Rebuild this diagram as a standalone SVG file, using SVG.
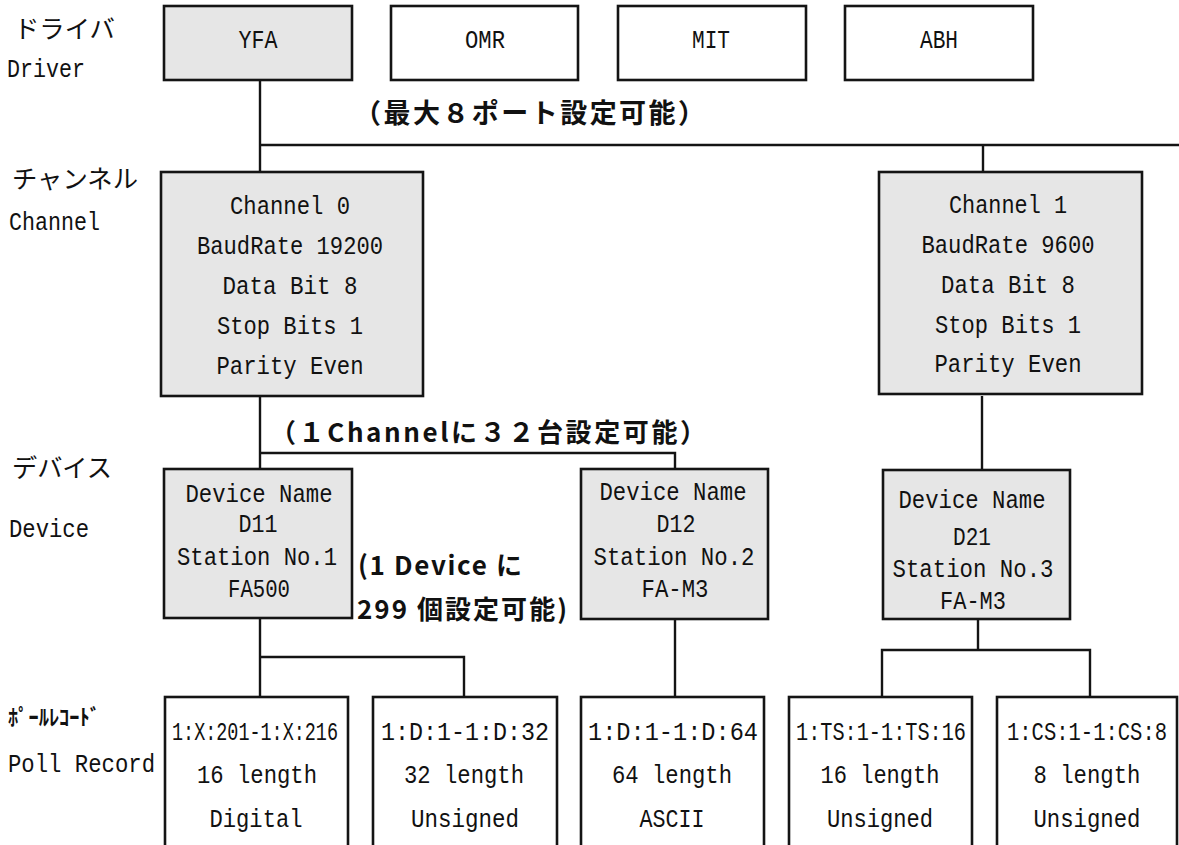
<svg xmlns="http://www.w3.org/2000/svg" width="1179" height="845" viewBox="0 0 1179 845">
<style>
.bx{stroke:#141414;stroke-width:2.6}
.g{fill:#e6e6e6}
.w{fill:#ffffff}
.t{font-family:"Liberation Mono","DejaVu Sans Mono",monospace;font-size:26px;fill:#111;text-anchor:middle}
.l{font-family:"Liberation Mono","DejaVu Sans Mono",monospace;font-size:26px;fill:#111}
.jp{font-family:"Noto Sans CJK JP","Noto Sans CJK SC",sans-serif;font-size:25px;fill:#111}
.jb{font-family:"Noto Sans CJK JP","Noto Sans CJK SC",sans-serif;font-size:26px;font-weight:bold;fill:#111}
.c{stroke:#141414;stroke-width:2.4;fill:none}
</style>
<rect width="1179" height="845" fill="#ffffff"/>

<g id="labels">
<text class="jp" x="14" y="38" textLength="101" lengthAdjust="spacingAndGlyphs">ドライバ</text>
<text class="l" x="7" y="77" textLength="78" lengthAdjust="spacingAndGlyphs">Driver</text>
<text class="jp" x="12" y="188" textLength="126" lengthAdjust="spacingAndGlyphs">チャンネル</text>
<text class="l" x="9" y="230" textLength="91" lengthAdjust="spacingAndGlyphs">Channel</text>
<text class="jp" x="12" y="477" textLength="100" lengthAdjust="spacingAndGlyphs">デバイス</text>
<text class="l" x="9" y="537" textLength="80" lengthAdjust="spacingAndGlyphs">Device</text>
<text class="jb" x="8" y="725" style="font-size:22px" textLength="92" lengthAdjust="spacingAndGlyphs">ﾎﾟｰﾙﾚｺｰﾄﾞ</text>
<text class="l" x="8" y="772" textLength="147" lengthAdjust="spacingAndGlyphs">Poll Record</text>
</g>

<g id="connectors">
<path class="c" d="M260 80 V172"/>
<path class="c" d="M260 145 H1179"/>
<path class="c" d="M983 145 V172"/>
<path class="c" d="M260 396 V469"/>
<path class="c" d="M260 453 H675 V469"/>
<path class="c" d="M982 396 V470"/>
<path class="c" d="M260 618 V697"/>
<path class="c" d="M260 657 H464 V697"/>
<path class="c" d="M675 619 V697"/>
<path class="c" d="M978 619 V650"/>
<path class="c" d="M882 697 V650 H1090 V697"/>
</g>

<g id="notes">
<text class="jb" x="354" y="123" style="font-size:27px" textLength="351" lengthAdjust="spacing">（最大８ポート設定可能）</text>
<text class="jb" x="270" y="442" textLength="436" lengthAdjust="spacing">（１Channelに３２台設定可能）</text>
<text class="jb" x="358" y="575" textLength="164" lengthAdjust="spacing">(1 Device に</text>
<text class="jb" x="357" y="619" textLength="210" lengthAdjust="spacing">299 個設定可能)</text>
</g>

<g id="driver-yfa"><rect class="bx g" x="164" y="6" width="188" height="74"/><text class="t" x="258" y="48" textLength="39" lengthAdjust="spacingAndGlyphs">YFA</text></g>
<g id="driver-omr"><rect class="bx w" x="391" y="6" width="187" height="74"/><text class="t" x="485" y="48" textLength="40" lengthAdjust="spacingAndGlyphs">OMR</text></g>
<g id="driver-mit"><rect class="bx w" x="618" y="6" width="188" height="74"/><text class="t" x="711" y="48" textLength="38" lengthAdjust="spacingAndGlyphs">MIT</text></g>
<g id="driver-abh"><rect class="bx w" x="845" y="6" width="188" height="74"/><text class="t" x="939" y="48" textLength="38" lengthAdjust="spacingAndGlyphs">ABH</text></g>

<g id="channel-0">
<rect class="bx g" x="161" y="172" width="262" height="224"/>
<text class="t" x="290" y="214" textLength="120" lengthAdjust="spacingAndGlyphs">Channel 0</text>
<text class="t" x="290" y="254" textLength="186" lengthAdjust="spacingAndGlyphs">BaudRate 19200</text>
<text class="t" x="290" y="294" textLength="135" lengthAdjust="spacingAndGlyphs">Data Bit 8</text>
<text class="t" x="290" y="334" textLength="146" lengthAdjust="spacingAndGlyphs">Stop Bits 1</text>
<text class="t" x="290" y="374" textLength="147" lengthAdjust="spacingAndGlyphs">Parity Even</text>
</g>

<g id="channel-1">
<rect class="bx g" x="879" y="172" width="263" height="222"/>
<text class="t" x="1008" y="213" textLength="118" lengthAdjust="spacingAndGlyphs">Channel 1</text>
<text class="t" x="1008" y="253" textLength="173" lengthAdjust="spacingAndGlyphs">BaudRate 9600</text>
<text class="t" x="1008" y="293" textLength="134" lengthAdjust="spacingAndGlyphs">Data Bit 8</text>
<text class="t" x="1008" y="333" textLength="146" lengthAdjust="spacingAndGlyphs">Stop Bits 1</text>
<text class="t" x="1008" y="372" textLength="147" lengthAdjust="spacingAndGlyphs">Parity Even</text>
</g>

<g id="device-d11">
<rect class="bx g" x="164" y="469" width="188" height="149"/>
<text class="t" x="259" y="502" textLength="147" lengthAdjust="spacingAndGlyphs">Device Name</text>
<text class="t" x="258" y="532" textLength="39" lengthAdjust="spacingAndGlyphs">D11</text>
<text class="t" x="257" y="565" textLength="160" lengthAdjust="spacingAndGlyphs">Station No.1</text>
<text class="t" x="259" y="597" textLength="62" lengthAdjust="spacingAndGlyphs">FA500</text>
</g>

<g id="device-d12">
<rect class="bx g" x="581" y="469" width="187" height="150"/>
<text class="t" x="673" y="500" textLength="147" lengthAdjust="spacingAndGlyphs">Device Name</text>
<text class="t" x="676" y="532" textLength="39" lengthAdjust="spacingAndGlyphs">D12</text>
<text class="t" x="674" y="565" textLength="161" lengthAdjust="spacingAndGlyphs">Station No.2</text>
<text class="t" x="675" y="597" textLength="67" lengthAdjust="spacingAndGlyphs">FA-M3</text>
</g>

<g id="device-d21">
<rect class="bx g" x="883" y="470" width="187" height="149"/>
<text class="t" x="972" y="508" textLength="147" lengthAdjust="spacingAndGlyphs">Device Name</text>
<text class="t" x="972" y="545" textLength="38" lengthAdjust="spacingAndGlyphs">D21</text>
<text class="t" x="973" y="577" textLength="161" lengthAdjust="spacingAndGlyphs">Station No.3</text>
<text class="t" x="973" y="609" textLength="66" lengthAdjust="spacingAndGlyphs">FA-M3</text>
</g>

<g id="poll-1">
<rect class="bx w" x="165" y="697" width="183" height="170"/>
<text class="t" x="255" y="740" textLength="166" lengthAdjust="spacingAndGlyphs">1:X:201-1:X:216</text>
<text class="t" x="257" y="783" textLength="120" lengthAdjust="spacingAndGlyphs">16 length</text>
<text class="t" x="256" y="827" textLength="93" lengthAdjust="spacingAndGlyphs">Digital</text>
</g>
<g id="poll-2">
<rect class="bx w" x="373" y="697" width="184" height="170"/>
<text class="t" x="465" y="740" textLength="168" lengthAdjust="spacingAndGlyphs">1:D:1-1:D:32</text>
<text class="t" x="464" y="783" textLength="120" lengthAdjust="spacingAndGlyphs">32 length</text>
<text class="t" x="465" y="827" textLength="108" lengthAdjust="spacingAndGlyphs">Unsigned</text>
</g>
<g id="poll-3">
<rect class="bx w" x="581" y="697" width="183" height="170"/>
<text class="t" x="673" y="740" textLength="170" lengthAdjust="spacingAndGlyphs">1:D:1-1:D:64</text>
<text class="t" x="672" y="783" textLength="120" lengthAdjust="spacingAndGlyphs">64 length</text>
<text class="t" x="672" y="827" textLength="65" lengthAdjust="spacingAndGlyphs">ASCII</text>
</g>
<g id="poll-4">
<rect class="bx w" x="789" y="697" width="183" height="170"/>
<text class="t" x="881" y="740" textLength="170" lengthAdjust="spacingAndGlyphs">1:TS:1-1:TS:16</text>
<text class="t" x="880" y="783" textLength="119" lengthAdjust="spacingAndGlyphs">16 length</text>
<text class="t" x="880" y="827" textLength="106" lengthAdjust="spacingAndGlyphs">Unsigned</text>
</g>
<g id="poll-5">
<rect class="bx w" x="997" y="697" width="180" height="170"/>
<text class="t" x="1087" y="740" textLength="160" lengthAdjust="spacingAndGlyphs">1:CS:1-1:CS:8</text>
<text class="t" x="1087" y="783" textLength="107" lengthAdjust="spacingAndGlyphs">8 length</text>
<text class="t" x="1087" y="827" textLength="107" lengthAdjust="spacingAndGlyphs">Unsigned</text>
</g>
</svg>
